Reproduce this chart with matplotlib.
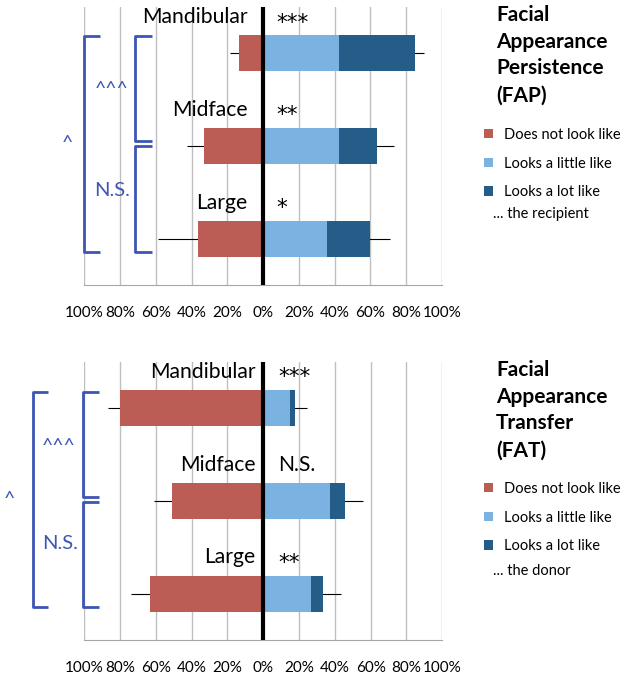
import matplotlib
matplotlib.use("Agg")
import matplotlib.pyplot as plt
from matplotlib.patches import Patch

plt.rcParams['font.family'] = ['Lato', 'DejaVu Sans']

categories = ['Mandibular', 'Midface', 'Large']
tick_values = [-100, -80, -60, -40, -20, 0, 20, 40, 60, 80, 100]
tick_labels = ['100%', '80%', '60%', '40%', '20%', '0%', '20%', '40%', '60%', '80%', '100%']
legend_labels = ['Does not look like', 'Looks a little like', 'Looks a lot like']

# Facial Appearance Persistence (FAP), percent of ratings
fap_not = [13.3, 33.2, 36.2]
fap_little = [42.3, 42.3, 35.8]
fap_lot = [42.5, 21.1, 23.7]
fap_err_not = [5.0, 9.3, 22.8]
fap_err_like = [5.1, 9.7, 11.4]
fap_sig = ['***', '**', '*']

# Facial Appearance Transfer (FAT), percent of ratings
fat_not = [80.2, 50.9, 63.1]
fat_little = [14.9, 37.3, 26.5]
fat_lot = [3.0, 8.4, 6.7]
fat_err_not = [6.8, 10.3, 10.8]
fat_err_like = [6.3, 10.0, 10.4]
fat_sig = ['***', 'N.S.', '**']

RED = '#BB5D55'
LIGHT = '#7AB2E2'
DARK = '#255D89'
BRACKET = '#3D55B3'
W, H = 624, 677


def fx(px):
    return px / W


def fy(py):
    return 1 - py / H


def bracket(ax, x, tip, y0, y1):
    ax.plot([tip, x, x, tip], [y0, y0, y1, y1], color=BRACKET, lw=2.0,
            solid_joinstyle='round', solid_capstyle='butt', clip_on=False, zorder=5)


def panel(rect, not_like, little, lot, err_not, err_like, sig, label_x, sig_x, brackets, marks):
    ax = fig.add_axes(rect)
    y = list(range(len(categories)))
    neg = [-v for v in not_like]
    like_total = [a + b for a, b in zip(little, lot)]

    ax.errorbar(neg, y, xerr=err_not, fmt='none', ecolor='black', elinewidth=0.8, capsize=0, zorder=2)
    ax.errorbar(like_total, y, xerr=err_like, fmt='none', ecolor='black', elinewidth=0.8, capsize=0, zorder=2)
    ax.barh(y, neg, height=0.39, color=RED, zorder=3)
    ax.barh(y, little, height=0.39, color=LIGHT, zorder=3)
    ax.barh(y, lot, left=little, height=0.39, color=DARK, zorder=3)
    ax.axvline(0, color='black', lw=3.0, zorder=4)

    for i, cat in enumerate(categories):
        ax.text(label_x, i - 0.39, cat, ha='right', va='center', fontsize=15.2, zorder=6)
        if set(sig[i]) == {'*'}:
            ax.text(sig_x, i - 0.33, sig[i], ha='left', va='center', fontsize=15.5,
                    family='DejaVu Sans', zorder=6)
        else:
            ax.text(sig_x, i - 0.39, sig[i], ha='left', va='center', fontsize=15.2, zorder=6)

    for b in brackets:
        bracket(ax, *b)
    for x, yy, s, fs in marks:
        ax.text(x, yy, s, ha='center', va='center', color=BRACKET, fontsize=fs, clip_on=False)

    ax.set_xlim(-100, 100)
    ax.set_ylim(2.5, -0.5)
    ax.set_xticks(tick_values)
    ax.set_xticklabels(tick_labels, fontsize=11)
    ax.set_yticks([])
    ax.tick_params(axis='x', length=0, pad=15)
    ax.grid(axis='x', color='#BFBFBF', lw=1.0, zorder=0)
    ax.set_axisbelow(True)
    for s in ['top', 'left', 'right']:
        ax.spines[s].set_visible(False)
    ax.spines['bottom'].set_color('#A6A6A6')
    ax.patch.set_alpha(0)
    return ax


fig = plt.figure(figsize=(6.24, 6.77), dpi=100)

panel([fx(84.3), fy(285), fx(357.7), 278 / H],
      fap_not, fap_little, fap_lot, fap_err_not, fap_err_like, fap_sig,
      label_x=-8.8, sig_x=7.4,
      brackets=[(-100, -91, -0.19, 2.14), (-71.5, -62, -0.19, 0.95), (-71.5, -62, 1.0, 2.14)],
      marks=[(-109.7, 0.97, '^', 14), (-85, 0.39, '^^^', 14), (-84.5, 1.48, 'N.S.', 14.5)])

panel([fx(84.3), fy(640), fx(358), 278.3 / H],
      fat_not, fat_little, fat_lot, fat_err_not, fat_err_like, fat_sig,
      label_x=-4.3, sig_x=8.2,
      brackets=[(-128.9, -120, -0.17, 2.14), (-101, -91.6, -0.17, 0.955), (-101, -91.6, 1.015, 2.14)],
      marks=[(-142, 0.99, '^', 14), (-114.4, 0.41, '^^^', 14), (-113.4, 1.46, 'N.S.', 14.5)])

handles = [Patch(facecolor=c) for c in (RED, LIGHT, DARK)]
for title, top, leg_top, note, note_y in [
        ('Facial\nAppearance\nPersistence\n(FAP)', 5, 128, '... the recipient', 214),
        ('Facial\nAppearance\nTransfer\n(FAT)', 360, 482, '... the donor', 571)]:
    fig.text(fx(496), fy(top), title, ha='left', va='top', fontsize=15,
             fontweight='bold', linespacing=1.42)
    fig.legend(handles, legend_labels, loc='upper left', bbox_to_anchor=(fx(484), fy(leg_top)),
               frameon=False, fontsize=10.5, handlelength=0.6, handleheight=0.6,
               handletextpad=0.8, labelspacing=1.0, borderpad=0, borderaxespad=0)
    fig.text(fx(493), fy(note_y), note, ha='left', va='center', fontsize=10.5)

fig.savefig('out.png', dpi=100)
